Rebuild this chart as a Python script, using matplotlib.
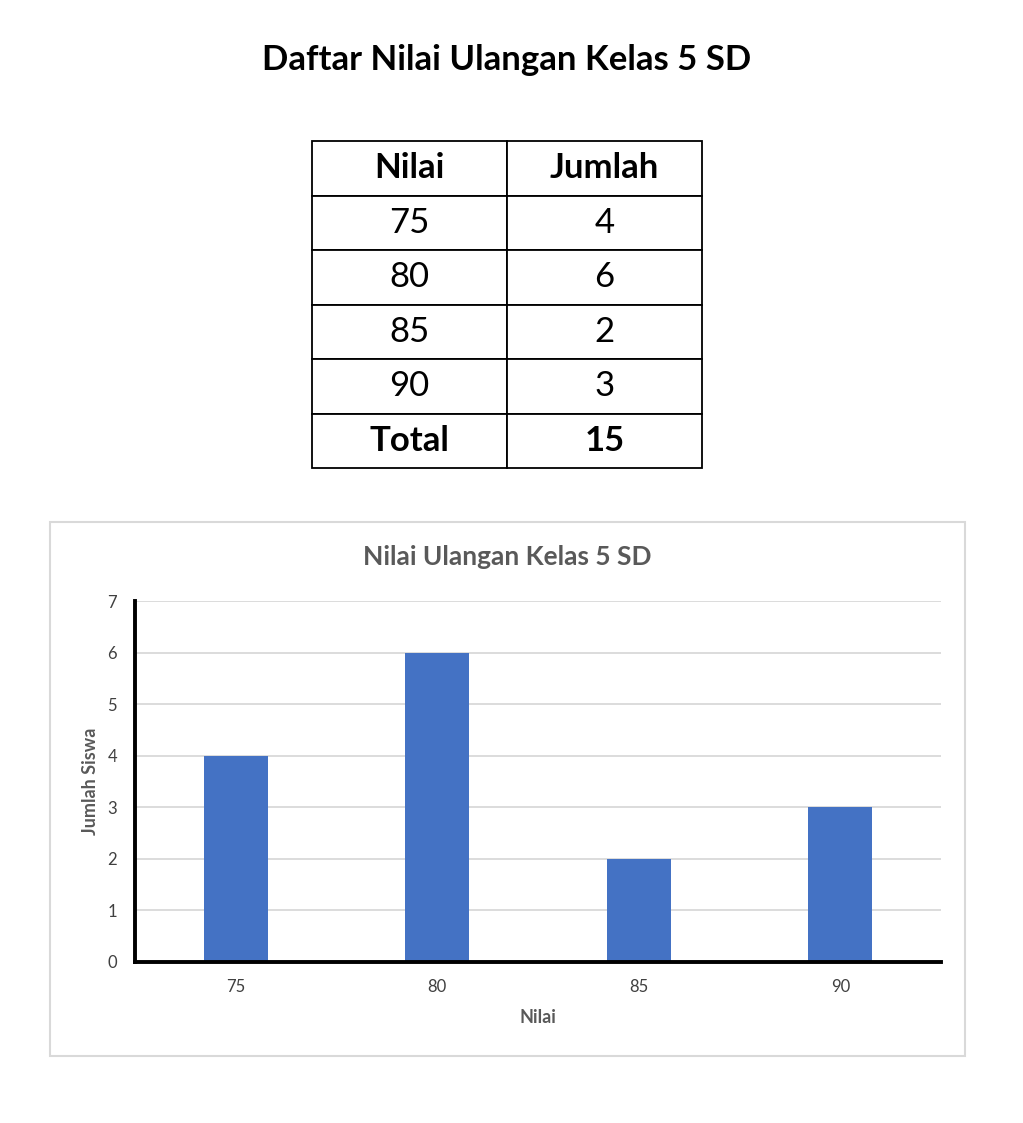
import matplotlib

matplotlib.use("Agg")
import matplotlib.pyplot as plt
from matplotlib.patches import Rectangle

plt.rcParams["font.family"] = ["Lato", "DejaVu Sans"]

# data
nilai = ["75", "80", "85", "90"]
jumlah = [4, 6, 2, 3]
header = ["Nilai", "Jumlah"]
total_label = "Total"
y_ticks = [0, 1, 2, 3, 4, 5, 6, 7]

W, H = 1023, 1123
BLUE = "#4472C4"
GREY = "#595959"


def box(x, y, w, h):
    """pixel box (top-left origin) -> figure fraction rect"""
    return [x / W, 1 - (y + h) / H, w / W, h / H]


fig = plt.figure(figsize=(W / 100, H / 100), dpi=100)

fig.text(507 / W, 1 - 60 / H, "Daftar Nilai Ulangan Kelas 5 SD", ha="center", va="center",
         fontsize=25, fontweight="bold", color="black")

# table
tax = fig.add_axes(box(312, 141, 390, 327))
tax.axis("off")
rows = [header] + [[n, str(j)] for n, j in zip(nilai, jumlah)] + [[total_label, str(sum(jumlah))]]
tbl = tax.table(cellText=rows, cellLoc="center", bbox=[0, 0, 1, 1])
tbl.auto_set_font_size(False)
for (r, c), cell in tbl.get_celld().items():
    cell.set_linewidth(1.3)
    cell.set_edgecolor("black")
    bold = r == 0 or r == len(rows) - 1
    cell.get_text().set_fontsize(25)
    cell.get_text().set_fontweight("bold" if bold else "normal")

# chart frame
frame = Rectangle((50 / W, 1 - 1056 / H), 915 / W, 534 / H, transform=fig.transFigure,
                  facecolor="white", edgecolor="#d9d9d9", linewidth=1.5, zorder=-5)
fig.patches.append(frame)
fig.text(507 / W, 1 - 557 / H, "Nilai Ulangan Kelas 5 SD", ha="center", va="center",
         fontsize=19, fontweight="bold", color=GREY)

ax = fig.add_axes(box(135, 601, 806, 361))
ax.set_zorder(2)
ax.patch.set_alpha(0)
x = range(len(nilai))
ax.bar(x, jumlah, width=0.32, color=BLUE, zorder=3)
ax.set_xlim(-0.5, len(nilai) - 0.5)
ax.set_ylim(0, 7)
ax.set_yticks(y_ticks)
ax.set_xticks(list(x))
ax.set_xticklabels(nilai)
ax.grid(axis="y", color="#d9d9d9", linewidth=1.3, zorder=0)
for s in ["top", "right"]:
    ax.spines[s].set_visible(False)
for s in ["left", "bottom"]:
    ax.spines[s].set_linewidth(2.8)
    ax.spines[s].set_color("black")
    ax.spines[s].set_zorder(4)
ax.tick_params(length=0, labelsize=12, labelcolor="#404040", pad=13)
ax.tick_params(axis="x", pad=12)
ax.set_xlabel("Nilai", fontsize=13, fontweight="bold", color=GREY, labelpad=10)
ax.set_ylabel("Jumlah Siswa", fontsize=13, fontweight="bold", color=GREY, labelpad=6)

fig.savefig("out.png", dpi=100)
